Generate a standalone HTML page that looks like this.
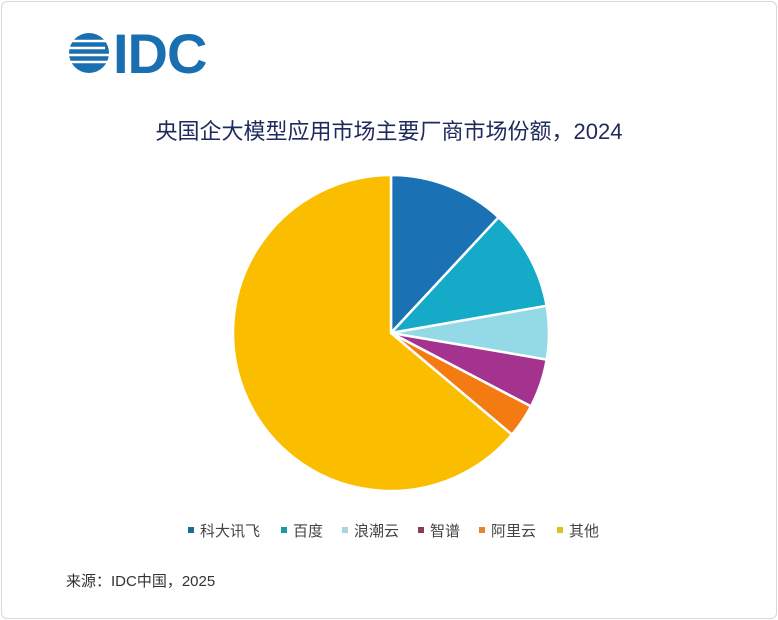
<!DOCTYPE html>
<html><head><meta charset="utf-8"><style>
body{margin:0;width:778px;height:620px;background:#fff;overflow:hidden;font-family:"Liberation Sans","Noto Sans CJK SC",sans-serif;}
.frame{position:absolute;left:1px;top:1px;width:774px;height:616px;border:1px solid #d8d8d8;border-radius:6px;}
.t{position:absolute;white-space:nowrap;}
</style></head><body>
<div class="frame"></div>
<svg width="778" height="620" style="position:absolute;left:0;top:0">
  <g fill="#1a6fb0">
    <circle cx="89" cy="53" r="20"/>
  </g>
  <g stroke="#fff" stroke-width="2.4">
    <line x1="66" y1="41" x2="112" y2="41"/>
    <line x1="66" y1="48" x2="105" y2="48"/>
    <line x1="66" y1="55" x2="112" y2="55"/>
    <line x1="70" y1="62" x2="112" y2="62"/>
  </g>
  <text x="113" y="73" font-family="Liberation Sans,sans-serif" font-size="56" font-weight="bold" fill="#1a6fb0" letter-spacing="-1">IDC</text>
  <g stroke="#fff" stroke-width="2.5" stroke-linejoin="round">
    <path d="M391,333 L391,175 A158,158 0 0 1 498.6,217.3 Z" fill="#1a72b4"/>
    <path d="M391,333 L498.6,217.3 A158,158 0 0 1 546.6,305.8 Z" fill="#14aac8"/>
    <path d="M391,333 L546.6,305.8 A158,158 0 0 1 546.7,359.6 Z" fill="#93d9e6"/>
    <path d="M391,333 L546.7,359.6 A158,158 0 0 1 530.9,406.4 Z" fill="#a3338f"/>
    <path d="M391,333 L530.9,406.4 A158,158 0 0 1 512.0,434.6 Z" fill="#f47a12"/>
    <path d="M391,333 L512.0,434.6 A158,158 0 1 1 391,175 Z" fill="#fbbd00"/>
  </g>
  <g>
    <rect x="188" y="527" width="6" height="6" fill="#1a6a9a"/>
    <rect x="281" y="527" width="6" height="6" fill="#1a9aa8"/>
    <rect x="342" y="527" width="6" height="6" fill="#a8d6de"/>
    <rect x="418" y="527" width="6" height="6" fill="#8a3a5e"/>
    <rect x="479" y="527" width="6" height="6" fill="#e08a30"/>
    <rect x="557" y="527" width="6" height="6" fill="#e0c020"/>
  </g>
</svg>
<div class="t" style="left:0;width:778px;text-align:center;top:114px;font-size:22px;color:#1f2a5c;">央国企大模型应用市场主要厂商市场份额，2024</div>
<div class="t" style="left:200px;top:520px;font-size:15px;color:#444;">科大讯飞</div>
<div class="t" style="left:293px;top:520px;font-size:15px;color:#444;">百度</div>
<div class="t" style="left:354px;top:520px;font-size:15px;color:#444;">浪潮云</div>
<div class="t" style="left:430px;top:520px;font-size:15px;color:#444;">智谱</div>
<div class="t" style="left:491px;top:520px;font-size:15px;color:#444;">阿里云</div>
<div class="t" style="left:569px;top:520px;font-size:15px;color:#444;">其他</div>
<div class="t" style="left:66px;top:570px;font-size:15px;color:#333;">来源：IDC中国，2025</div>
</body></html>
